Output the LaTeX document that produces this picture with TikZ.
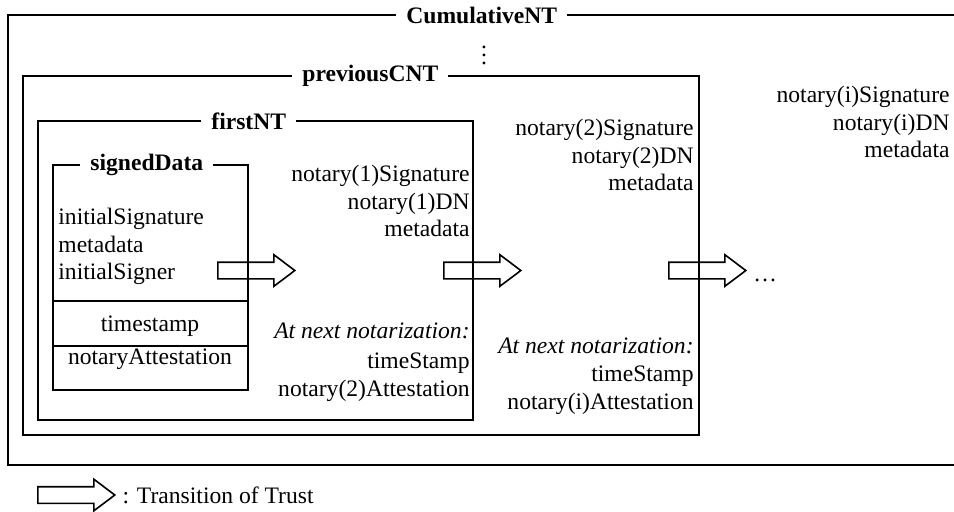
\documentclass[tikz,border=0pt]{standalone}
\usepackage{fontspec}
\setmainfont{Liberation Serif}
\usetikzlibrary{positioning, shapes.arrows}
\tikzset{
  every node/.style={font=\fontsize{11.8}{13.75}\selectfont},
  nestbox/.style={
    rectangle, draw, line width=1pt, inner sep=0pt
  },
  frametitle/.style={
    fill=white, anchor=west, inner xsep=5pt, inner ysep=1pt,
    font=\fontsize{11.8}{13.75}\selectfont\bfseries
  },
  divider/.style={line width=0.7pt},
  fieldlist/.style={align=right, anchor=north east, inner sep=0pt},
  trust/.style={
    single arrow, draw, line width=0.8pt, anchor=tail,
    inner xsep=0pt, inner ysep=3.75pt, minimum height=38.5pt,
    single arrow head extend=3.75pt, single arrow tip angle=74
  }
}

\begin{document}
\begin{tikzpicture}[x=0.5pt, y=-0.5pt]
\useasboundingbox (0,0) rectangle (954,511);

% ── CumulativeNT, open to the right ──────────────────────────────────────
\draw[line width=1pt] (954,15) -- (8,15) -- (8,465) -- (954,465);
\node[frametitle] (cnttitle) at (396,15) {CumulativeNT\ };
\node (vdots) at (484,49) {$\vdots$};

\node[fieldlist] (sigi) at (950,86)
  {notary(i)Signature\\notary(i)DN\\metadata};

% ── previousCNT ──────────────────────────────────────────────────────────
\node[nestbox, minimum width=338pt, minimum height=179.5pt] (prevcnt) at (361,255.5) {};
\node[frametitle] (prevtitle) at (292,76) {previousCNT\ };

\node[fieldlist] (sig2) at (694,119)
  {notary(2)Signature\\notary(2)DN\\metadata};
\node[fieldlist] (att2) at (694,337)
  {\textit{At next notarization:}\\[0.5pt]timeStamp\\notary(i)Attestation};

% ── firstNT ──────────────────────────────────────────────────────────────
\node[nestbox, minimum width=217.5pt, minimum height=149.5pt] (firstnt) at (255.5,270.5) {};
\node[frametitle] (firsttitle) at (201,121) {firstNT\ };

\node[fieldlist] (sig1) at (470,165)
  {notary(1)Signature\\notary(1)DN\\metadata};
\node[fieldlist] (att1) at (470,322)
  {\textit{At next notarization:}\\[1.5pt]timeStamp\\notary(2)Attestation};

% ── signedData with its two lower cells ──────────────────────────────────
\node[nestbox, minimum width=97.5pt, minimum height=112.5pt] (signed) at (150.5,277.5) {};
\node[frametitle] (signedtitle) at (80,165) {signedData};

\coordinate (cut1) at (0,301);
\coordinate (cut2) at (0,346);
\draw[divider] (signed.west |- cut1) -- (signed.east |- cut1);
\draw[divider] (signed.west |- cut2) -- (signed.east |- cut2);

\node[anchor=north west, align=left, inner sep=0pt] (sdfields) at (58,208)
  {initialSignature\\metadata\\initialSigner};
\node[anchor=base, inner sep=0pt] (tstamp) at (150,331) {timestamp};
\node[anchor=base, inner sep=0pt] (nattest) at (150,364) {notaryAttestation};

% ── transitions of trust ─────────────────────────────────────────────────
\node[trust] (arr1) at (217,270.5) {};
\node[trust] (arr2) at (443,270.5) {};
\node[trust] (arr3) at (668,270.5) {};
\node[anchor=base west, inner sep=0pt] (more) at (753,281) {\dots};

% ── legend ───────────────────────────────────────────────────────────────
\node[trust] (legarrow) at (37,495) {};
\node[right=3pt of legarrow.tip, inner sep=0pt] (legtext) {: Transition of Trust};

\end{tikzpicture}
\end{document}
